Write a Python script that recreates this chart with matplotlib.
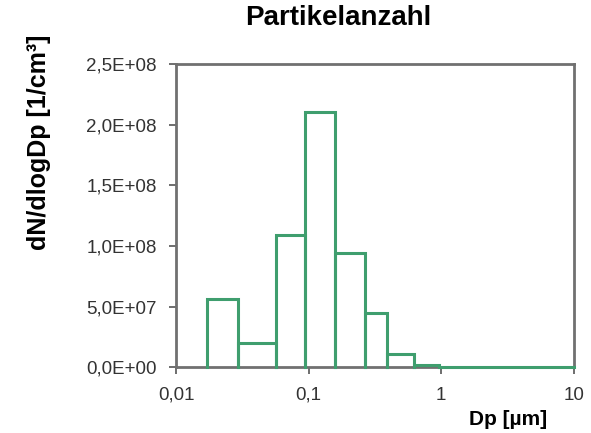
import numpy as np
import matplotlib
matplotlib.use("Agg")
import matplotlib.pyplot as plt
from matplotlib.ticker import FixedLocator, FixedFormatter, NullLocator

plt.rcParams['font.family'] = ['Liberation Sans', 'DejaVu Sans']

# bin edges (Dp in um) and dN/dlogDp values
edges = [0.017, 0.0292, 0.0564, 0.0938, 0.158, 0.266, 0.391, 0.625, 0.965, 10]
values = [5.66e7, 1.99e7, 1.09e8, 2.105e8, 9.45e7, 4.5e7, 1.1e7, 2.0e6, 0.0]

xticks = [0.01, 0.1, 1, 10]
xticklabels = ['0,01', '0,1', '1', '10']
yticks = [0, 5e7, 1e8, 1.5e8, 2e8, 2.5e8]
yticklabels = ['0,0E+00', '5,0E+07', '1,0E+08', '1,5E+08', '2,0E+08', '2,5E+08']

green = '#3f9e6e'

fig = plt.figure(figsize=(5.91, 4.33), dpi=100)
ax = fig.add_axes([0.298, 0.152, 0.673, 0.700])

# outline of the histogram bars
for i, v in enumerate(values):
    x0, x1 = edges[i], edges[i + 1]
    ax.plot([x0, x0, x1, x1], [0, v, v, 0], color=green, lw=2.2,
            solid_joinstyle='miter', zorder=3, clip_on=False)

ax.set_xscale('log')
ax.set_xlim(0.01, 10)
ax.set_ylim(0, 2.5e8)
ax.xaxis.set_major_locator(FixedLocator(xticks))
ax.xaxis.set_major_formatter(FixedFormatter(xticklabels))
ax.xaxis.set_minor_locator(NullLocator())
ax.set_yticks(yticks)
ax.set_yticklabels(yticklabels)

for s in ax.spines.values():
    s.set_color('#707070')
    s.set_linewidth(2)
ax.tick_params(axis='both', direction='out', length=5, width=1.2,
               color='#555555', labelsize=13.5, labelcolor='#333333', pad=9)

fig.text(0.572, 0.958, 'Partikelanzahl', ha='center', va='center',
         fontsize=20, fontweight='bold')
fig.text(0.066, 0.671, 'dN/dlogDp [1/cm³]', ha='center', va='center',
         rotation=90, fontsize=18, fontweight='bold')
fig.text(0.860, 0.031, 'Dp [µm]', ha='center', va='center',
         fontsize=15, fontweight='bold')

fig.savefig('out.png', dpi=100)
